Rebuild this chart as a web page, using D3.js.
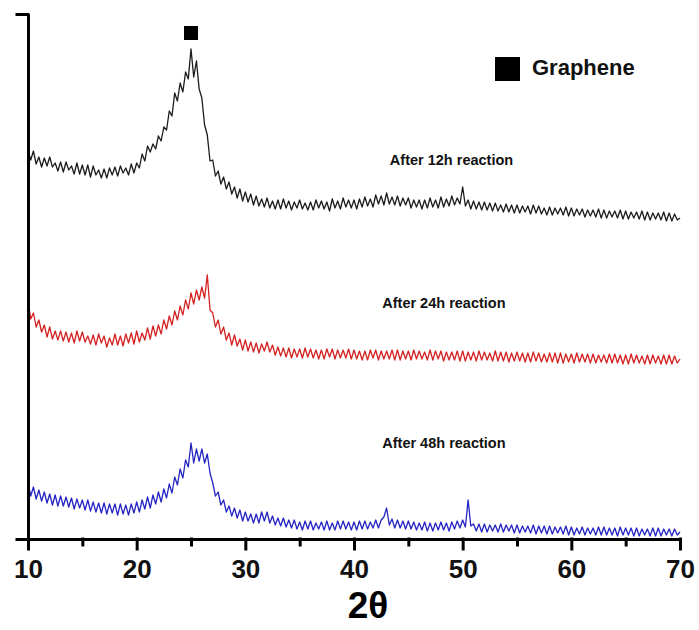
<!DOCTYPE html>
<html>
<head>
<meta charset="utf-8">
<script src="https://cdn.jsdelivr.net/npm/d3@7"></script>
<style>
    body { margin: 0; background: #fff; }
    text { font-family: "Liberation Sans", Arial, sans-serif; }
    .axis path, .axis line { stroke: #000; stroke-width: 3px; }
    .axis text { font-size: 26px; font-weight: bold; fill: #111; }
    .trace { fill: none; stroke-width: 1.3px; stroke-linejoin: round; }
    .sample-label { font-size: 14.5px; font-weight: bold; fill: #111; }
</style>
</head>
<body>
<div id="chart"></div>
<script>

// Scan grid: 10 to 70 degrees, one reading every 0.25 degree
const angleStart = 10;
const angleStep = 0.25;

const majorTicks = [10, 20, 30, 40, 50, 60, 70];
const minorTicks = [15, 25, 35, 45, 55, 65];

const sampleNames = ["After 12h reaction", "After 24h reaction", "After 48h reaction"];
const sampleColors = ["#1c1c1c", "#d42222", "#2424c4"];

// Intensities (arbitrary units, traces already stacked)
const after12h = [
    389, 379, 388, 375,
    382, 372, 381, 373,
    382, 372, 376, 368,
    377, 367, 377, 369,
    373, 365, 376, 365,
    374, 364, 374, 362,
    373, 364, 369, 361,
    370, 361, 371, 364,
    372, 363, 373, 366,
    371, 364, 375, 366,
    376, 371, 385, 378,
    393, 387, 395, 390,
    403, 398, 412, 409,
    428, 423, 446, 438,
    456, 447, 467, 460,
    490, 462, 478, 450,
    441, 414, 404, 378,
    379, 363, 368, 355,
    362, 350, 357, 345,
    352, 341, 350, 338,
    347, 337, 345, 334,
    343, 333, 340, 332,
    341, 331, 338, 330,
    339, 330, 340, 331,
    338, 329, 337, 331,
    339, 330, 336, 329,
    337, 329, 339, 331,
    338, 330, 337, 328,
    340, 331, 338, 330,
    341, 332, 339, 331,
    339, 330, 340, 332,
    342, 333, 340, 332,
    344, 335, 343, 334,
    346, 335, 342, 334,
    343, 333, 341, 334,
    341, 331, 339, 332,
    339, 330, 339, 331,
    341, 332, 339, 331,
    342, 332, 340, 333,
    343, 334, 341, 335,
    352, 333, 339, 330,
    338, 330, 337, 329,
    337, 329, 336, 328,
    336, 328, 334, 327,
    335, 327, 334, 326,
    334, 326, 333, 327,
    333, 325, 334, 326,
    333, 325, 331, 324,
    332, 324, 331, 325,
    331, 324, 332, 323,
    331, 323, 330, 324,
    330, 322, 329, 323,
    329, 322, 330, 321,
    329, 321, 328, 322,
    328, 321, 329, 320,
    328, 320, 327, 321,
    327, 320, 328, 319,
    327, 319, 326, 320,
    326, 319, 327, 318,
    326, 318, 325, 319,
    321
];

const after24h = [
    239, 220, 226, 212,
    219, 207, 214, 202,
    212, 200, 208, 199,
    208, 198, 207, 197,
    206, 196, 208, 198,
    207, 197, 203, 195,
    204, 194, 205, 196,
    203, 192, 201, 194,
    205, 194, 203, 193,
    205, 196, 206, 195,
    208, 197, 206, 199,
    211, 200, 213, 203,
    214, 205, 219, 210,
    223, 214, 228, 219,
    233, 224, 239, 230,
    246, 235, 249, 239,
    252, 241, 264, 229,
    226, 212, 219, 205,
    212, 199, 206, 194,
    204, 193, 200, 189,
    199, 188, 197, 187,
    196, 186, 195, 188,
    197, 187, 194, 184,
    192, 183, 191, 182,
    191, 181, 190, 182,
    190, 181, 191, 182,
    190, 181, 189, 180,
    189, 180, 190, 182,
    190, 180, 189, 181,
    189, 181, 190, 180,
    189, 180, 188, 179,
    188, 179, 189, 181,
    189, 179, 188, 180,
    188, 180, 189, 179,
    189, 179, 188, 180,
    188, 179, 189, 180,
    188, 180, 187, 179,
    189, 179, 188, 180,
    188, 178, 187, 179,
    187, 179, 188, 178,
    188, 178, 187, 179,
    187, 178, 188, 179,
    187, 179, 186, 178,
    188, 178, 187, 178,
    187, 177, 186, 178,
    187, 178, 186, 177,
    186, 177, 187, 178,
    186, 177, 185, 177,
    186, 177, 186, 176,
    186, 176, 185, 177,
    185, 176, 186, 177,
    185, 177, 185, 176,
    185, 176, 184, 177,
    184, 176, 185, 176,
    185, 176, 184, 175,
    184, 175, 185, 176,
    184, 176, 183, 175,
    184, 175, 184, 176,
    183, 175, 184, 175,
    184, 175, 183, 176,
    180
];

const after48h = [
    56, 43, 52, 40,
    49, 38, 47, 36,
    45, 34, 44, 33,
    43, 33, 42, 32,
    41, 30, 40, 31,
    39, 29, 39, 28,
    37, 27, 36, 26,
    36, 25, 35, 26,
    35, 24, 35, 25,
    34, 24, 35, 26,
    37, 27, 39, 30,
    42, 31, 44, 35,
    47, 37, 50, 41,
    55, 46, 62, 54,
    70, 61, 79, 72,
    96, 76, 90, 78,
    90, 76, 85, 66,
    56, 43, 47, 34,
    39, 27, 33, 23,
    31, 21, 29, 18,
    27, 18, 25, 16,
    25, 16, 27, 18,
    27, 16, 23, 14,
    21, 13, 21, 12,
    19, 11, 19, 10,
    17, 9, 18, 10,
    18, 9, 16, 10,
    17, 9, 18, 9,
    16, 9, 18, 10,
    18, 10, 17, 9,
    17, 9, 18, 10,
    18, 10, 17, 11,
    19, 11, 19, 22,
    31, 14, 20, 11,
    19, 11, 18, 10,
    18, 10, 17, 9,
    16, 9, 17, 8,
    16, 8, 16, 9,
    17, 9, 16, 8,
    17, 10, 18, 11,
    19, 12, 39, 13,
    15, 8, 15, 7,
    15, 7, 14, 8,
    14, 7, 15, 7,
    14, 8, 14, 6,
    14, 6, 13, 7,
    13, 6, 14, 5,
    13, 6, 13, 5,
    13, 5, 12, 6,
    12, 5, 13, 4,
    12, 4, 11, 5,
    12, 4, 11, 5,
    11, 4, 12, 4,
    12, 4, 11, 4,
    11, 3, 12, 4,
    11, 4, 11, 3,
    11, 3, 10, 4,
    10, 3, 11, 3,
    11, 3, 10, 4,
    10, 3, 10, 4,
    7
];

// where the sample names sit: [2theta, intensity]
const labelAnchors = [[43.3, 379], [42.6, 236], [42.6, 96]];
const graphenePeak = 25;


let margin = {top: 14, right: 19, bottom: 91, left: 28};
let width = 699 - margin.left - margin.right;
let height = 630 - margin.top - margin.bottom;

let svg = d3.select("#chart").append("svg")
    .attr("width", 699)
    .attr("height", 630)
    .append("g")
    .attr("transform", "translate(" + margin.left + "," + margin.top + ")");

let x = d3.scaleLinear()
    .domain([10, 70])
    .range([0, width]);

let y = d3.scaleLinear()
    .domain([0, 525])
    .range([height, 0]);

// Traces
let series = [after12h, after24h, after48h];

let line = d3.line()
    .x((d, i) => x(angleStart + i * angleStep))
    .y(d => y(d));

svg.selectAll(".trace")
    .data(series)
    .enter().append("path")
    .attr("class", "trace")
    .attr("stroke", (d, i) => sampleColors[i])
    .attr("d", line);

svg.selectAll(".sample-label")
    .data(sampleNames)
    .enter().append("text")
    .attr("class", "sample-label")
    .attr("x", (d, i) => x(labelAnchors[i][0]))
    .attr("y", (d, i) => y(labelAnchors[i][1]))
    .attr("dy", "0.35em")
    .text(d => d);

// Axes
let xAxis = d3.axisBottom(x)
    .tickValues(majorTicks)
    .tickSize(10)
    .tickSizeOuter(0)
    .tickPadding(11)
    .tickFormat(d3.format("d"));

let xMinor = d3.axisBottom(x)
    .tickValues(minorTicks)
    .tickSize(6)
    .tickSizeOuter(0)
    .tickFormat("");

let yAxis = d3.axisLeft(y)
    .tickValues([0, 525])
    .tickSize(11)
    .tickSizeOuter(0)
    .tickFormat("");

svg.append("g")
    .attr("class", "x-axis axis")
    .attr("transform", "translate(0," + height + ")")
    .call(xAxis);

svg.append("g")
    .attr("class", "x-minor axis")
    .attr("transform", "translate(0," + height + ")")
    .call(xMinor);

svg.append("g")
    .attr("class", "y-axis axis")
    .call(yAxis);

svg.selectAll(".axis line").attr("stroke-linecap", "square");

svg.append("text")
    .attr("x", width / 2 + 14)
    .attr("y", height + 79)
    .attr("text-anchor", "middle")
    .style("font-size", "37px")
    .style("font-weight", "bold")
    .text("2θ");

// Graphene marker above the peak and legend
svg.append("rect")
    .attr("x", x(graphenePeak) - 7)
    .attr("y", 12)
    .attr("width", 14)
    .attr("height", 14)
    .attr("fill", "#000");

svg.append("rect")
    .attr("x", 467)
    .attr("y", 43)
    .attr("width", 25)
    .attr("height", 24)
    .attr("fill", "#000");

svg.append("text")
    .attr("x", 504)
    .attr("y", 61)
    .style("font-size", "22px")
    .style("font-weight", "bold")
    .attr("fill", "#111")
    .text("Graphene");

</script>
</body>
</html>
